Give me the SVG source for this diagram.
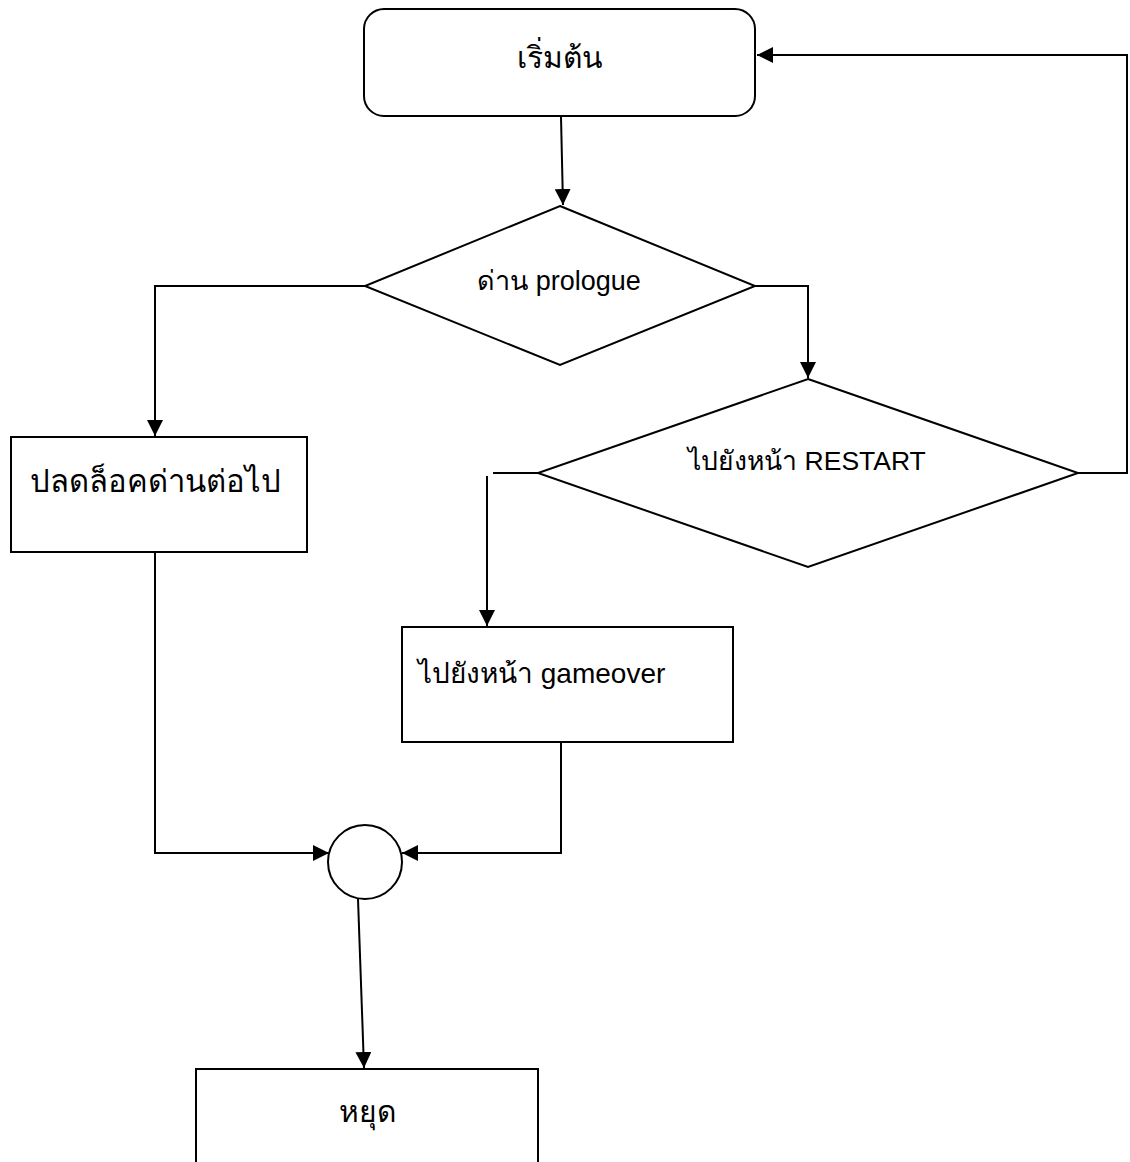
<svg xmlns="http://www.w3.org/2000/svg" width="1130" height="1162" viewBox="0 0 1130 1162">
<defs>
<style>
.shape{fill:#fff;stroke:#000;stroke-width:2}
.conn{fill:none;stroke:#000;stroke-width:2}
.t{font-family:"Liberation Sans","Noto Sans","DejaVu Sans",sans-serif;fill:#000}
</style>
<marker id="ah" markerUnits="userSpaceOnUse" markerWidth="16" markerHeight="16" viewBox="0 0 16 16" refX="16" refY="8" orient="auto">
<path d="M0,0 L16,8 L0,16 z" fill="#000"/>
</marker>
</defs>
<rect width="1130" height="1162" fill="#fff"/>
<g id="connectors">
<path class="conn" d="M561,117 L563,205" marker-end="url(#ah)"/>
<path class="conn" d="M365,286 H155 V436" marker-end="url(#ah)"/>
<path class="conn" d="M755,286 H808 V378" marker-end="url(#ah)"/>
<path class="conn" d="M1078,473 H1127 V55 H757" marker-end="url(#ah)"/>
<path class="conn" d="M493,473 H563"/>
<path class="conn" d="M487,476 V626" marker-end="url(#ah)"/>
<path class="conn" d="M155,552 V853 H329" marker-end="url(#ah)"/>
<path class="conn" d="M561,742 V853 H402" marker-end="url(#ah)"/>
<path class="conn" d="M358,899 L364,1068" marker-end="url(#ah)"/>
</g>
<g id="start">
<rect class="shape" x="364" y="9" width="391" height="107" rx="20"/>
<text class="t" x="560" y="68" font-size="30" text-anchor="middle">เริ่มต้น</text>
</g>
<g id="decision-prologue">
<polygon class="shape" points="560,206 755,286 560,365 365,286"/>
<text class="t" x="559" y="290" font-size="27" text-anchor="middle">ด่าน prologue</text>
</g>
<g id="decision-restart">
<polygon class="shape" points="808,379 1078,473 808,567 538,473"/>
<text class="t" x="807" y="470" font-size="26.5" text-anchor="middle">ไปยังหน้า RESTART</text>
</g>
<g id="unlock">
<rect class="shape" x="11" y="437" width="296" height="115"/>
<text class="t" x="155" y="492" font-size="31" text-anchor="middle">ปลดล็อคด่านต่อไป</text>
</g>
<g id="gameover">
<rect class="shape" x="402" y="627" width="331" height="115"/>
<text class="t" x="418" y="683" font-size="28">ไปยังหน้า gameover</text>
</g>
<g id="join">
<circle class="shape" cx="365" cy="862" r="37"/>
</g>
<g id="stop">
<rect class="shape" x="196" y="1069" width="342" height="110"/>
<text class="t" x="367" y="1122" font-size="30" text-anchor="middle">หยุด</text>
</g>
</svg>
